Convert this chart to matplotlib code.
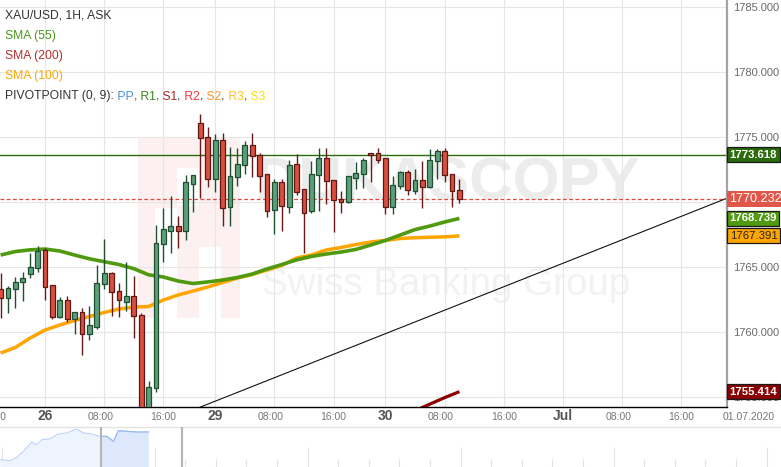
import matplotlib
matplotlib.use('Agg')
import matplotlib.pyplot as plt
from matplotlib.transforms import blended_transform_factory, ScaledTranslation
from matplotlib.patches import Rectangle

plt.rcParams['font.family'] = ['Liberation Sans', 'DejaVu Sans']

# ---------------- data ----------------
bar_index = list(range(-6, 57))
opens = [1763.31, 1762.59, 1763.28, 1763.82, 1764.44, 1764.90, 1766.31, 1763.59, 1761.13, 1762.44,
         1760.98, 1761.52, 1759.82, 1760.41, 1763.67, 1764.52, 1763.13, 1762.33, 1762.75, 1761.28,
         1753.80, 1755.67, 1766.75, 1767.79, 1768.13, 1767.79, 1771.41, 1776.05, 1775.02, 1771.75,
         1774.75, 1769.59, 1771.90, 1772.82, 1774.38, 1773.59, 1772.13, 1769.38, 1771.51, 1769.59,
         1772.92, 1770.98, 1769.28, 1772.05, 1773.36, 1771.67, 1770.21, 1769.98, 1771.82, 1772.13,
         1773.77, 1773.77, 1773.36, 1769.59, 1771.21, 1772.31, 1770.82, 1771.67, 1771.13, 1773.13,
         1773.90, 1772.13, 1770.90]
highs = [1764.52, 1763.54, 1764.23, 1764.59, 1766.08, 1766.62, 1766.48, 1763.60, 1762.69, 1762.75,
         1761.52, 1761.82, 1762.00, 1765.15, 1767.15, 1764.59, 1763.75, 1765.36, 1764.31, 1761.46,
         1756.23, 1768.23, 1769.56, 1770.46, 1768.92, 1772.08, 1772.10, 1776.75, 1775.75, 1775.21,
         1775.28, 1774.25, 1774.13, 1774.69, 1775.31, 1773.79, 1772.15, 1771.75, 1771.75, 1773.21,
         1773.67, 1771.00, 1773.13, 1774.13, 1774.13, 1771.70, 1770.82, 1772.00, 1773.10, 1773.36,
         1773.80, 1774.13, 1773.40, 1771.98, 1772.38, 1772.44, 1772.52, 1773.15, 1774.08, 1774.05,
         1774.13, 1772.15, 1771.75]
lows = [1761.10, 1761.48, 1761.82, 1762.41, 1764.18, 1764.64, 1762.46, 1760.98, 1761.10, 1760.75,
        1759.82, 1758.23, 1759.41, 1760.25, 1763.31, 1761.25, 1761.18, 1761.64, 1759.56, 1752.80,
        1753.00, 1755.41, 1765.41, 1766.10, 1766.48, 1767.08, 1769.25, 1770.33, 1771.18, 1770.75,
        1768.18, 1768.15, 1771.25, 1772.18, 1771.95, 1770.79, 1768.87, 1767.52, 1767.75, 1769.13,
        1770.52, 1766.05, 1769.13, 1769.28, 1769.82, 1767.72, 1769.13, 1769.90, 1771.00, 1771.10,
        1771.56, 1773.02, 1769.05, 1769.05, 1770.98, 1770.52, 1770.59, 1769.56, 1771.10, 1771.75,
        1771.56, 1769.64, 1769.90]
closes = [1762.59, 1763.36, 1763.82, 1764.13, 1764.98, 1766.23, 1763.48, 1761.13, 1762.44, 1760.98,
          1761.52, 1759.87, 1760.54, 1763.75, 1764.52, 1763.05, 1762.44, 1762.75, 1761.21, 1753.50,
          1755.75, 1766.82, 1767.90, 1768.13, 1767.79, 1771.51, 1772.05, 1774.95, 1771.75, 1774.75,
          1769.52, 1772.00, 1772.90, 1774.38, 1773.52, 1772.02, 1769.28, 1771.51, 1769.67, 1772.82,
          1770.75, 1769.13, 1772.13, 1773.36, 1771.59, 1770.13, 1769.98, 1771.98, 1772.23, 1773.23,
          1773.59, 1773.25, 1769.59, 1771.28, 1772.31, 1770.90, 1771.67, 1771.13, 1773.21, 1773.90,
          1772.05, 1770.82, 1770.23]

sma_index = list(range(-6, 57, 2))
sma55 = [1765.92, 1766.19, 1766.32, 1766.38, 1766.23, 1765.92, 1765.63, 1765.41, 1765.19, 1764.87,
         1764.40, 1764.23, 1763.92, 1763.73, 1763.85, 1764.00, 1764.19, 1764.46, 1764.85, 1765.19,
         1765.55, 1765.81, 1766.00, 1766.15, 1766.35, 1766.69, 1767.04, 1767.46, 1767.88, 1768.15,
         1768.46, 1768.74]
sma100 = [1758.38, 1758.81, 1759.54, 1760.15, 1760.54, 1760.88, 1761.19, 1761.50, 1761.77, 1761.92,
          1761.96, 1762.46, 1762.85, 1763.15, 1763.46, 1763.81, 1764.15, 1764.42, 1764.77, 1765.12,
          1765.69, 1765.92, 1766.31, 1766.50, 1766.73, 1766.92, 1767.05, 1767.19, 1767.25, 1767.29,
          1767.32, 1767.39]
sma200_index = [46, 48, 50, 52, 54, 56]
sma200 = [1752.90, 1753.40, 1753.95, 1754.45, 1754.95, 1755.41]

trend_index = [20.0, 92.2]
trend_value = [1754.0, 1770.3]

pivot_r1 = 1773.618
last_price = 1770.232
sma55_last = 1768.739
sma100_last = 1767.391
sma200_last = 1755.414

y_ticks = [1755, 1760, 1765, 1770, 1775, 1780, 1785]
tick_index = [0, 8, 16, 23, 31, 39, 46, 54, 62, 70, 78, 86]
tick_labels = ['26', '08:00', '16:00', '29', '08:00', '16:00', '30', '08:00', '16:00', 'Jul', '08:00', '16:00']
prev_tick_index = -7
prev_tick_label = '16:00'
corner_label = '01.07.2020'

nav_u = [-0.06, 0.0, 0.27, 0.49, 0.71, 0.98, 1.14, 1.31, 1.58, 1.85, 2.12, 2.45, 2.67, 2.94, 3.21,
         3.43, 3.65, 3.81, 4.08, 4.41, 4.74, 4.79]
nav_level = [7.3, 7.3, 6.3, 9.7, 15.7, 25, 22.3, 27.3, 28.3, 33, 34, 38, 34, 33, 30.7, 30.7, 25.7,
             36.3, 35.7, 35, 35, 35]
nav_window = [3.235, 5.90]

# ---------------- figure ----------------
W, H = 781, 467
fig = plt.figure(figsize=(W / 100, H / 100), dpi=100)
ax = fig.add_axes([0, 60 / H, 727 / W, 407 / H])
ax.set_xlim(-6.081, 92.16)
ax.set_ylim(1754.231, 1785.538)

for s in ['top', 'left']:
    ax.spines[s].set_visible(False)
ax.spines['bottom'].set_color('black')
ax.spines['bottom'].set_linewidth(1.0)
ax.spines['right'].set_color('#a3a3a3')
ax.spines['right'].set_linewidth(1.6)

ax.set_axisbelow(True)
ax.set_xticks(tick_index)
ax.set_yticks(y_ticks)
ax.set_yticklabels([f'{v:.3f}' for v in y_ticks])
ax.grid(True, color='#e6e6e6', lw=0.8)
ax.yaxis.tick_right()
ax.tick_params(axis='y', length=0, pad=4.5, labelsize=8, labelcolor='#6a6a6a')
ax.tick_params(axis='x', length=0, labelbottom=False)

# watermark
def px_rect(x0, y0, x1, y1, color):
    ax.add_patch(Rectangle((x0 / 727, 1 - y1 / 407), (x1 - x0) / 727, (y1 - y0) / 407,
                           transform=ax.transAxes, fc=color, ec='none', zorder=0.1))

px_rect(138, 138, 240, 318, '#fdf0f0')
px_rect(155, 208, 177, 318, 'white')
px_rect(177, 168, 199, 206, 'white')
px_rect(199, 247, 221, 318, 'white')

wm1 = ax.text(447 / 727, 1 - 184 / 407, 'DUKASCOPY', transform=ax.transAxes, ha='center', va='center',
              fontsize=50, fontweight='bold', color='#ececec', zorder=0.2,
              family=['Liberation Sans Narrow', 'Liberation Sans'])
wm2 = ax.text(446 / 727, 1 - 285 / 407, 'Swiss Banking Group', transform=ax.transAxes, ha='center',
              va='center', fontsize=30, color='#f2f2f2', zorder=0.2,
              family=['Liberation Sans Narrow', 'Liberation Sans'])
fig.canvas.draw()
r = fig.canvas.get_renderer()
for t, target in [(wm1, 385), (wm2, 368)]:
    w = t.get_window_extent(r).width
    t.set_fontsize(t.get_fontsize() * target / w)

# horizontal reference lines
ax.axhline(pivot_r1, color='#2b6b0c', lw=1.0, zorder=2)
ax.axhline(last_price, color='#e5483b', lw=0.9, ls=(0, (3, 2)), zorder=2)

# trend line
ax.plot(trend_index, trend_value, color='#111111', lw=0.8, zorder=2)

# SMAs
ax.plot(sma_index, sma100, color='#ffa500', lw=2.5, zorder=3, solid_capstyle='butt')
ax.plot(sma_index, sma55, color='#4f9a0e', lw=2.6, zorder=3.1, solid_capstyle='butt')
ax.plot(sma200_index, sma200, color='#8b0000', lw=2.3, zorder=3, solid_capstyle='butt')

# candles
up_fill, up_edge = '#5d9f7b', '#1f4f2e'
dn_fill, dn_edge = '#d9503f', '#5e1714'
for i, o, h, l, c in zip(bar_index, opens, highs, lows, closes):
    up = c >= o
    ax.vlines(i, l, h, color=up_edge if up else '#6a1a16', lw=1.0, zorder=4)
    height = c - o
    if abs(height) < 0.06:
        height = 0.06 if up else -0.06
    ax.bar(i, height, bottom=o, width=0.64, color=up_fill if up else dn_fill,
           edgecolor=up_edge if up else dn_edge, linewidth=0.9, zorder=5)

# right-side value boxes
bt = blended_transform_factory(ax.transAxes, ax.transData)
def value_box(v, fc, tc, ec, size, weight, pad=0.22, dx=2.6):
    ax.text(1 + dx / 727, v, f'{v:.3f}', transform=bt, ha='left', va='center', fontsize=size,
            color=tc, fontweight=weight, clip_on=False, zorder=10,
            bbox=dict(boxstyle=f'square,pad={pad}', fc=fc, ec=ec, lw=0.9))

value_box(pivot_r1, '#2a6b0b', 'white', '#1a1a1a', 8.2, 'bold')
value_box(sma55_last, '#4f9a0e', 'white', '#1a1a1a', 8.2, 'bold')
value_box(sma100_last, '#ffa500', '#222222', '#1a1a1a', 8.2, 'normal')
value_box(sma200_last, '#8b0000', 'white', '#1a1a1a', 8.2, 'bold')
value_box(last_price, '#e0574a', 'white', 'none', 9.1, 'normal', pad=0.18, dx=2.0)

# x labels
xt = blended_transform_factory(ax.transData, ax.transAxes)
day_labels = {'26', '29', '30', 'Jul'}
all_ticks = [prev_tick_index] + tick_index
all_labels = [prev_tick_label] + tick_labels
for i, lab in zip(all_ticks, all_labels):
    dx = -4 / 100 if lab == '08:00' else 0
    tr = xt + ScaledTranslation(dx, -9.5 / 100, fig.dpi_scale_trans)
    if lab in day_labels:
        ax.text(i, 0, lab, transform=tr, ha='center', va='center', fontsize=10, fontweight='bold',
                color='#555555', clip_on=False)
    else:
        ax.text(i, 0, lab, transform=tr, ha='center', va='center', fontsize=7.5, color='#777777',
                clip_on=False)
fig.text(749 / W, 1 - 416.5 / H, corner_label, ha='center', va='center', fontsize=7.5, color='#777777')

# legend texts
fs = 8.7
fig.text(5 / W, 1 - 15.5 / H, 'XAU/USD, 1H, ASK', ha='left', va='center', fontsize=fs, color='#333333')
fig.text(5 / W, 1 - 36 / H, 'SMA (55)', ha='left', va='center', fontsize=fs, color='#4a961a')
fig.text(5 / W, 1 - 56 / H, 'SMA (200)', ha='left', va='center', fontsize=fs, color='#b03030')
fig.text(5 / W, 1 - 76 / H, 'SMA (100)', ha='left', va='center', fontsize=fs, color='#ffa500')
prev = fig.text(5 / W, 1 - 96.5 / H, 'PIVOTPOINT (0, 9):', ha='left', va='center', fontsize=fs,
                color='#333333')
pieces = [(' PP', '#4a90e2'), (',', '#333333'), (' R1', '#3d8a1f'), (',', '#333333'),
          (' S1', '#a82424'), (',', '#333333'), (' R2', '#ff3535'), (',', '#333333'),
          (' S2', '#ff9326'), (',', '#333333'), (' R3', '#ffc21f'), (',', '#333333'),
          (' S3', '#f5e400')]
for txt, col in pieces:
    prev = ax.annotate(txt, xy=(1, 0), xycoords=prev, ha='left', va='bottom', fontsize=fs,
                       color=col, annotation_clip=False)

# navigator
nav = fig.add_axes([0, 0, 1, 40 / H])
nav.set_xlim(-0.056, 25.47)
nav.set_ylim(0, 40)
nav.set_xticks([])
nav.set_yticks([])
for s in ['left', 'right', 'bottom']:
    nav.spines[s].set_visible(False)
nav.spines['top'].set_color('#e2e2e2')
nav.spines['top'].set_linewidth(1.0)
nav.patch.set_alpha(0)

nav.fill_between(nav_u, 0, nav_level, color='#eef4fe', lw=0, zorder=1)
nav.plot(nav_u, nav_level, color='#bcd3f6', lw=0.8, zorder=2)
clip = Rectangle((nav_window[0], 0), nav_window[1] - nav_window[0], 40, transform=nav.transData)
f2 = nav.fill_between(nav_u, 0, nav_level, color='#dde8fc', lw=0, zorder=1.5)
f2.set_clip_path(clip)
l2, = nav.plot(nav_u, nav_level, color='#92b6f0', lw=0.8, zorder=2.1)
l2.set_clip_path(clip)
for u in range(0, 26):
    top = 20 if u % 5 == 0 else 8
    nav.vlines(u, 0, top, color='#e3e3e3', lw=0.8, zorder=0.5)
for u in nav_window:
    nav.axvline(u, color='#b4b4b4', lw=1.5, zorder=3)

fig.savefig('out.png', dpi=100)
